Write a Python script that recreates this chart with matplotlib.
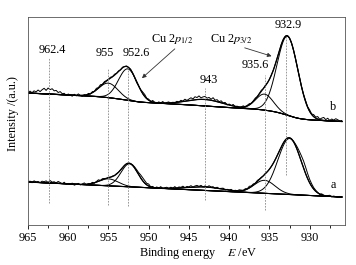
import numpy as np
import matplotlib
matplotlib.use("Agg")
import matplotlib.pyplot as plt
from matplotlib.ticker import MultipleLocator

plt.rcParams["font.family"] = ["Liberation Serif", "DejaVu Serif"]
plt.rcParams["mathtext.fontset"] = "stix"

# ---------------------------------------------------------------------------
# Data (intensity in arbitrary units)
# ---------------------------------------------------------------------------
raw_energy = np.linspace(965.0, 926.0, 157)   # 0.25 eV steps

# fitted components: centre (eV), height, sigma (eV)
b_centres = [932.75, 935.6, 943.0, 952.6, 955.0]
b_heights = [79.0, 16.0, 6.5, 31.5, 14.5]
b_sigmas = [1.30, 1.10, 2.2, 1.15, 1.2]
b_bg_high, b_bg_low, b_bg_slope = 132.0, 103.5, 0.40

a_centres = [932.5, 935.6, 943.0, 952.4, 955.0]
a_heights = [56.0, 13.0, 3.5, 23.0, 7.0]
a_sigmas = [1.45, 1.30, 2.3, 1.05, 1.2]
a_bg_high, a_bg_low, a_bg_slope = 43.0, 28.0, 0.385

b_resid = [0.5, 2.0, 0.5, 2.5, 1.5, 3.5, 2.0, 4.0,
           5.5, 3.5, 6.0, 4.5, 5.5, 3.5, 4.0, 2.0,
           3.0, 1.0, 1.5, -0.5, 1.0, 0.0, -1.0, 1.0,
           -0.5, 1.5, 0.0, -1.0, 0.5, -0.5, 1.0, -0.5,
           1.0, 0.0, 1.5, 0.5, 1.5, 0.0, 1.0, 0.5,
           0.5, 1.0, 0.0, 1.0, 0.0, 0.5, -0.5, 0.5,
           0.0, 0.5, 0.0, 0.5, 0.0, -0.5, -1.0, 0.0,
           0.5, 1.5, 2.0, 0.5, 1.0, -0.5, 1.5, 0.0,
           -0.5, 1.0, 0.0, 1.5, -0.5, 0.5, 1.0, -1.0,
           0.5, -0.5, 1.0, 0.0, 1.5, 0.5, 2.0, 0.5,
           1.5, 2.5, 1.0, 3.0, 2.0, 3.5, 1.5, 2.5,
           3.0, 1.5, 2.5, 1.0, 3.0, 1.0, 2.0, 0.5,
           2.0, 0.5, 1.5, -0.5, 1.0, 0.0, 1.5, -0.5,
           0.5, -1.0, 0.0, 1.0, -0.5, 0.5, 1.0, 0.0,
           0.5, 1.0, 0.0, 0.5, 1.0, 0.0, 0.5, 0.0,
           0.0, 0.5, 0.0, 0.0, 0.0, 0.0, 0.0, 0.0,
           0.0, 0.0, 0.0, 0.0, 0.0, 0.0, 0.0, 0.5,
           0.0, 0.5, 1.0, 0.5, 1.5, 0.5, 2.0, 1.0,
           2.5, 0.5, 2.0, 3.0, 1.0, 2.5, 0.5, 2.0,
           1.0, 2.5, 1.5, 0.5, 1.0]
a_resid = [0.0, 1.0, -0.5, 1.5, 0.5, 1.0, 0.0, 1.5,
           1.0, 2.0, 0.5, 2.5, 1.0, 1.5, 0.5, 2.0,
           1.0, 0.0, 1.5, -0.5, 0.5, 0.0, 1.0, -1.0,
           0.0, 1.0, -0.5, 0.5, 1.5, -0.5, 0.5, 0.0,
           1.0, -0.5, 0.5, 1.5, 0.0, 1.0, 0.5, 0.0,
           0.5, 0.0, 0.5, 0.0, 0.5, 0.0, 0.0, 0.0,
           0.0, 0.0, 0.0, 0.0, 0.5, 1.0, 1.5, 2.0,
           3.0, 3.0, 2.5, 1.5, 2.0, 0.0, 1.0, -0.5,
           1.0, 0.0, 1.5, -0.5, 0.5, 1.0, -0.5, 1.0,
           0.0, 1.5, -0.5, 1.0, 0.5, 1.5, 0.0, 1.0,
           0.5, 1.5, 0.0, 1.0, 1.5, 0.5, 1.5, 0.0,
           1.0, 0.0, 1.5, 0.5, 1.0, -0.5, 1.0, 0.0,
           0.5, 1.0, -0.5, 0.5, 0.0, 1.0, -0.5, 0.5,
           0.0, 1.0, 0.5, -0.5, 1.0, 0.0, 1.5, 0.5,
           1.0, 0.0, 1.0, 0.5, 0.5, 0.0, 0.5, 0.0,
           0.0, 0.0, 0.0, 0.0, 0.0, 0.0, 0.0, 0.0,
           0.0, 0.0, 0.0, 0.0, 0.5, 1.5, 3.0, 4.5,
           6.0, 7.0, 6.5, 5.0, 3.5, 2.5, 1.5, 1.0,
           0.5, -0.5, 1.0, 0.0, -0.5, 0.5, 1.0, -0.5,
           0.5, 0.0, -0.5, 0.5, 0.0]

# marked peak positions and dashed-line extents
mark_energy = [962.4, 955.0, 952.6, 943.0, 935.6, 932.9]
mark_top = [167, 157, 157, 137, 150, 190]
mark_bottom = [22, 20, 19, 25, 15, 50]
label_text = ["962.4", "955", "952.6", "943", "935.6", "932.9"]
label_x = [962.0, 955.45, 951.6, 942.6, 936.7, 932.6]
label_y = [175, 172, 172, 145, 160, 200]


def gauss(x, c, h, s):
    return h * np.exp(-0.5 * ((x - c) / s) ** 2)


def fit_curves(x, centres, heights, sigmas, bg_high, bg_low, slope):
    comps = [gauss(x, c, h, s) for c, h, s in zip(centres, heights, sigmas)]
    total = np.sum(comps, axis=0)
    # Shirley-type step on top of a linear background
    cum = np.cumsum(total)
    frac = cum / cum[-1]
    lin = bg_high - slope * (x[0] - x)
    step = (bg_high - slope * (x[0] - x[-1])) - bg_low
    bg = lin - step * frac
    return bg, comps, bg + total


x = np.linspace(965.0, 926.0, 1200)

fig = plt.figure(figsize=(3.56, 2.65), dpi=100)
ax = fig.add_axes([0.0787, 0.1509, 0.8905, 0.7849])

for centres, heights, sigmas, bh, bl, sl, resid in [
    (b_centres, b_heights, b_sigmas, b_bg_high, b_bg_low, b_bg_slope, b_resid),
    (a_centres, a_heights, a_sigmas, a_bg_high, a_bg_low, a_bg_slope, a_resid),
]:
    bg, comps, env = fit_curves(x, centres, heights, sigmas, bh, bl, sl)
    raw = np.interp(raw_energy[::-1], x[::-1], env[::-1])[::-1] + np.array(resid)
    ax.plot(raw_energy, raw, color="black", lw=0.7)
    ax.plot(x, bg, color="black", lw=0.8)
    for comp in comps:
        ax.plot(x, bg + comp, color="black", lw=0.7)
    ax.plot(x, env, color="black", lw=0.9)

for e, t, b in zip(mark_energy, mark_top, mark_bottom):
    ax.plot([e, e], [b, t], color="#888888", lw=0.6, ls=(0, (2, 1.5)))

for t, lx, ly in zip(label_text, label_x, label_y):
    ax.text(lx, ly, t, ha="center", va="center", fontsize=8.8)

ax.text(947.1, 186, r"Cu 2$p_{1/2}$", ha="center", va="center", fontsize=8.8)
ax.text(939.7, 186, r"Cu 2$p_{3/2}$", ha="center", va="center", fontsize=8.8)
ax.annotate("", xy=(951.1, 145), xytext=(946.5, 178),
            arrowprops=dict(arrowstyle="-|>", color="#333333", lw=0.6,
                            mutation_scale=6))
ax.annotate("", xy=(934.4, 168), xytext=(938.4, 178),
            arrowprops=dict(arrowstyle="-|>", color="#333333", lw=0.6,
                            mutation_scale=6))
ax.text(927.1, 118, "b", ha="center", va="center", fontsize=8.8)
ax.text(927.1, 40, "a", ha="center", va="center", fontsize=8.8)

ax.set_xlim(965.0, 925.6)
ax.set_ylim(0, 208)
ax.xaxis.set_major_locator(MultipleLocator(5))
ax.xaxis.set_minor_locator(MultipleLocator(2.5))
ax.tick_params(axis="x", which="major", direction="out", length=3, width=0.6,
               labelsize=8.8, pad=2)
ax.tick_params(axis="x", which="minor", direction="out", length=2, width=0.6)
ax.set_yticks([])
for sp in ax.spines.values():
    sp.set_linewidth(0.6)
    sp.set_color("#555555")

fig.text(198 / 356, 1 - 253 / 265, r"Binding energy    $E$ /eV",
         ha="center", va="center", fontsize=8.8)
fig.text(13 / 356, 1 - 114 / 265, "Intensity /(a.u.)", rotation=90,
         ha="center", va="center", fontsize=8.8)

fig.savefig("out.png", dpi=100)
